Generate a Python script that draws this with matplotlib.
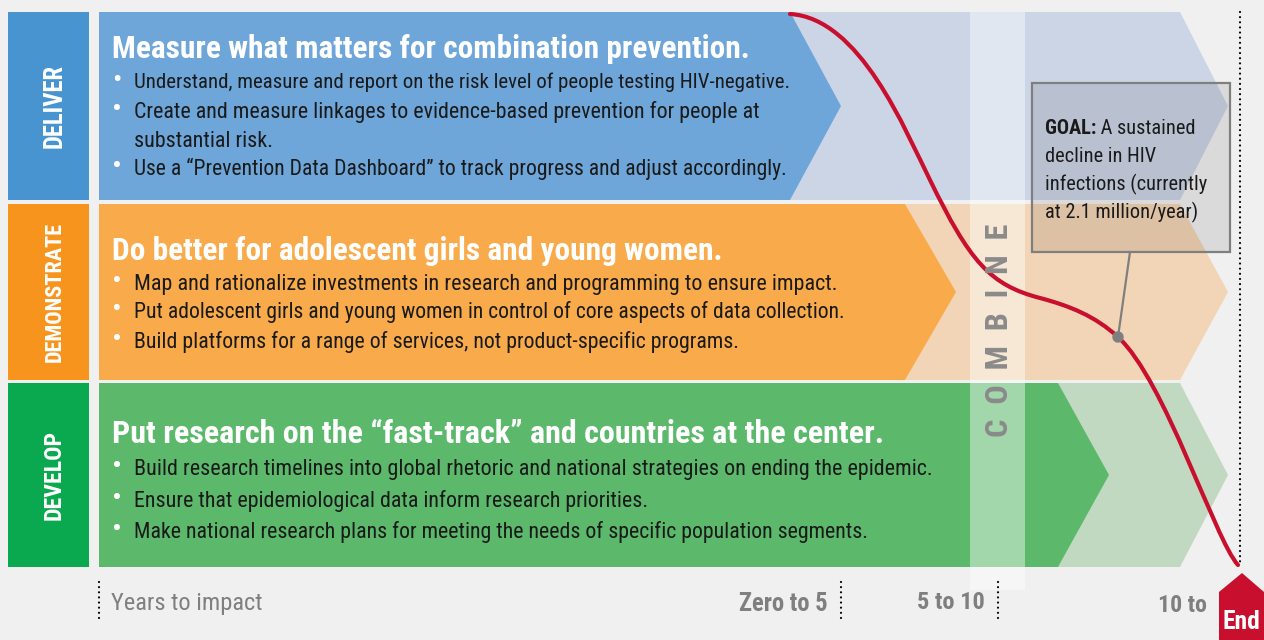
import matplotlib.pyplot as plt
from matplotlib.patches import Polygon, Rectangle, Circle, PathPatch
from matplotlib.path import Path

plt.rcParams['font.family'] = ['Roboto Condensed', 'DejaVu Sans']

# content
rows = ["DELIVER", "DEMONSTRATE", "DEVELOP"]
titles = [
    "Measure what matters for combination prevention.",
    "Do better for adolescent girls and young women.",
    "Put research on the \u201cfast-track\u201d and countries at the center.",
]
bullets = [
    ["Understand, measure and report on the risk level of people testing HIV-negative.",
     "Create and measure linkages to evidence-based prevention for people at\nsubstantial risk.",
     "Use a \u201cPrevention Data Dashboard\u201d to track progress and adjust accordingly."],
    ["Map and rationalize investments in research and programming to ensure impact.",
     "Put adolescent girls and young women in control of core aspects of data collection.",
     "Build platforms for a range of services, not product-specific programs."],
    ["Build research timelines into global rhetoric and national strategies on ending the epidemic.",
     "Ensure that epidemiological data inform research priorities.",
     "Make national research plans for meeting the needs of specific population segments."],
]
combine_label = "COMBINE"
goal_head = "GOAL:"
goal_lines = [" A sustained", "decline in HIV", "infections (currently", "at 2.1 million/year)"]
timeline_labels = ["Years to impact", "Zero to 5", "5 to 10", "10 to"]
end_label = "End"

# decline curve (bezier vertices, picture pixels)
decline_x = [790, 860, 905, 930, 970, 990, 1040, 1070, 1095, 1118, 1165, 1215, 1238]
decline_y = [14, 18, 130, 180, 262, 285, 298, 306, 316, 337, 380, 540, 565]
goal_point = (1118, 337)

# colours
label_colors = ["#4794d1", "#f7941d", "#0aa84f"]
bright_colors = ["#6ea6d9", "#f9ab4b", "#5cb96c"]
light_colors = ["#ccd5e6", "#f2d5b6", "#c1d9c1"]
red = "#c8102e"
grey = "#7f7f7f"

# layout (pixels)
row_top = [12, 204, 383]
row_bot = [200, 380, 567]
bright_end = [790, 905, 1058]
title_base = [58, 260, 443]
title_w = [639, 611, 772]
line_base = [[88, 118, 147, 175], [290, 318, 348], [475, 507, 538]]
line_w = [[659, 624, 155, 655], [698, 711, 606], [795, 513, 731]]
label_len = [84, 140, 90]

fig = plt.figure(figsize=(12.64, 6.4), dpi=100)
fig.patch.set_facecolor("#f0f0f0")
ax = fig.add_axes([0, 0, 1, 1])
ax.set_xlim(0, 1264)
ax.set_ylim(640, 0)
ax.axis("off")
renderer = fig.canvas.get_renderer()


def fit(t, size, vertical=False):
    # scale the font until the text spans the wanted number of pixels
    for _ in range(3):
        bb = t.get_window_extent(renderer)
        w = bb.height if vertical else bb.width
        t.set_fontsize(t.get_fontsize() * size / w)
    return t


def dotted(x, y0, y1):
    ax.plot([x, x], [y0, y1], color="black", lw=1.6,
            linestyle=(0, (0.01, 2.3)), dash_capstyle="round", zorder=6)


for i, name in enumerate(rows):
    top, bot = row_top[i], row_bot[i]
    mid = (top + bot) / 2
    ax.add_patch(Rectangle((8, top), 81, bot - top, color=label_colors[i], lw=0, zorder=1))
    t = ax.text(54.5, mid, name, rotation=90, ha="center", va="center",
                color="white", fontweight="bold", fontsize=14, zorder=6)
    fit(t, label_len[i], vertical=True)

    ax.add_patch(Polygon([(99, top), (1180, top), (1228, mid), (1180, bot), (99, bot)],
                         closed=True, color=light_colors[i], lw=0, zorder=1))
    be = bright_end[i]
    ax.add_patch(Polygon([(99, top), (be, top), (be + 51, mid), (be, bot), (99, bot)],
                         closed=True, color=bright_colors[i], lw=0, zorder=2))

    t = ax.text(112, title_base[i], titles[i], color="white", fontweight="bold",
                fontsize=22, va="baseline", ha="left", zorder=6)
    fit(t, title_w[i])

    k = 0
    for b in bullets[i]:
        for j, line in enumerate(b.split("\n")):
            y = line_base[i][k]
            if j == 0:
                t = ax.text(134, y, line, color="#1a1a1a", fontsize=16,
                            va="baseline", ha="left", zorder=6)
                fit(t, line_w[i][k])
                size = t.get_fontsize()
                ax.text(117, y, "\u2022", color="white", fontsize=size * 1.35,
                        va="baseline", ha="center", zorder=6)
            else:
                # wrapped line keeps the size of its bullet
                ax.text(134, y, line, color="#1a1a1a", fontsize=size,
                        va="baseline", ha="left", zorder=6)
            k += 1

# combine column
ax.add_patch(Rectangle((970, 12), 55, 578, color="white", alpha=0.43, lw=0, zorder=3))
t = ax.text(999, 330, "  ".join(combine_label), rotation=90, ha="center", va="center",
            color="#8a8a8a", fontweight="bold", fontsize=20, zorder=6)
fit(t, 215, vertical=True)

# goal box
ax.add_patch(Rectangle((1032, 83), 198, 169, facecolor="black", alpha=0.09, lw=0, zorder=4))
ax.add_patch(Rectangle((1032, 83), 198, 169, facecolor="none", edgecolor=grey, lw=1.6, zorder=4))
ax.plot([1130, goal_point[0]], [252, goal_point[1]], color=grey, lw=1.6, zorder=5)

verts = list(zip(decline_x, decline_y))
codes = [Path.MOVETO] + [Path.CURVE4] * (len(verts) - 1)
ax.add_patch(PathPatch(Path(verts, codes), facecolor="none", edgecolor=red, lw=3,
                       capstyle="round", zorder=5))
ax.add_patch(Circle(goal_point, 5, color=grey, zorder=6))

t = ax.text(1045, 190, goal_lines[2], color="#1a1a1a", fontsize=14, va="baseline", zorder=6)
fit(t, 162)
gs = t.get_fontsize()
head = ax.text(1045, 134, goal_head, color="#1a1a1a", fontsize=gs, fontweight="bold",
               va="baseline", zorder=6)
hx = ax.transData.inverted().transform(head.get_window_extent(renderer))[1][0]
ax.text(hx, 134, goal_lines[0], color="#1a1a1a", fontsize=gs, va="baseline", zorder=6)
ax.text(1045, 162, goal_lines[1], color="#1a1a1a", fontsize=gs, va="baseline", zorder=6)
ax.text(1045, 218, goal_lines[3], color="#1a1a1a", fontsize=gs, va="baseline", zorder=6)

dotted(1240, 12, 562)

# timeline
dotted(99, 582, 621)
dotted(841, 582, 618)
dotted(998, 582, 618)
t = ax.text(111, 610, timeline_labels[0], color=grey, fontsize=16, va="baseline", ha="left")
fit(t, 151)
t = ax.text(828, 611, timeline_labels[1], color=grey, fontsize=16, fontweight="bold",
            va="baseline", ha="right")
fit(t, 89)
t = ax.text(985, 609, timeline_labels[2], color=grey, fontsize=16, fontweight="bold",
            va="baseline", ha="right")
fit(t, 68)
t = ax.text(1158, 612, timeline_labels[3], color=grey, fontsize=16, fontweight="bold",
            va="baseline", ha="left")
fit(t, 49)

ax.add_patch(Polygon([(1219, 592), (1242, 573), (1264, 592), (1264, 640), (1219, 640)],
                     closed=True, color=red, lw=0, zorder=5))
t = ax.text(1241, 629, end_label, color="white", fontweight="bold", fontsize=16,
            va="baseline", ha="center", zorder=6)
fit(t, 38)

fig.savefig("out.png", dpi=100, facecolor=fig.get_facecolor())
